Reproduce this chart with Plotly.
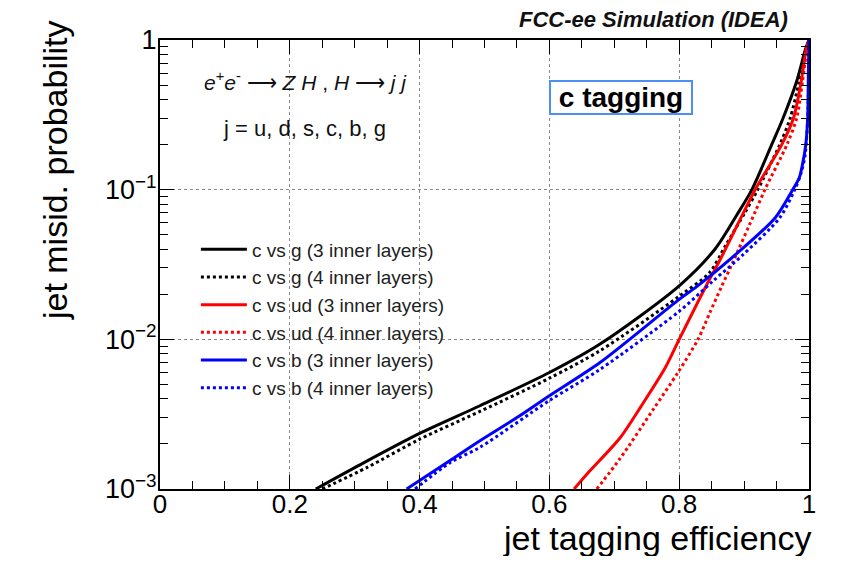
"""c-tagging ROC curves: misid. probability vs tagging efficiency (3 vs 4 inner layers)."""
import plotly.graph_objects as go

# values
CG3_EFF = [0.24, 0.308, 0.40, 0.493, 0.60, 0.678, 0.80, 0.855, 0.889, 0.912, 0.9425, 0.960, 0.981, 0.995, 1.0]
CG3_MIS = [0.001, 0.00145, 0.00235, 0.0036, 0.0060, 0.0093, 0.0228, 0.040, 0.068, 0.10, 0.20, 0.30, 0.53, 0.88, 1.0]

CG4_EFF = [0.25, 0.32, 0.40, 0.493, 0.60, 0.678, 0.80, 0.847, 0.871, 0.901, 0.921, 0.955, 0.971, 0.985, 0.996, 1.0]
CG4_MIS = [0.001, 0.0014, 0.00215, 0.0033, 0.0055, 0.0084, 0.0194, 0.028, 0.042, 0.070, 0.10, 0.20, 0.30, 0.53, 0.88, 1.0]

CUD3_EFF = [0.638, 0.658, 0.709, 0.74, 0.778, 0.80, 0.842, 0.863, 0.896, 0.917, 0.958, 0.976, 0.988, 0.996, 1.0]
CUD3_MIS = [0.001, 0.00126, 0.0022, 0.0035, 0.0064, 0.010, 0.023, 0.034, 0.066, 0.10, 0.20, 0.30, 0.53, 0.88, 1.0]

CUD4_EFF = [0.673, 0.709, 0.76, 0.798, 0.829, 0.847, 0.865, 0.883, 0.917, 0.932, 0.966, 0.981, 0.990, 0.997, 1.0]
CUD4_MIS = [0.001, 0.0016, 0.0034, 0.0060, 0.010, 0.015, 0.0224, 0.033, 0.071, 0.10, 0.20, 0.30, 0.53, 0.88, 1.0]

CB3_EFF = [0.38, 0.447, 0.493, 0.55, 0.60, 0.678, 0.80, 0.827, 0.881, 0.948, 0.975, 0.985, 0.990, 0.995, 0.998, 0.999, 1.0]
CB3_MIS = [0.001, 0.00155, 0.0021, 0.0030, 0.0042, 0.0070, 0.0185, 0.0225, 0.035, 0.065, 0.10, 0.12, 0.148, 0.20, 0.30, 0.60, 1.0]

CB4_EFF = [0.393, 0.447, 0.493, 0.60, 0.678, 0.80, 0.852, 0.899, 0.955, 0.978, 0.988, 0.994, 0.998, 0.9995, 1.0]
CB4_MIS = [0.001, 0.0015, 0.0019, 0.0039, 0.0063, 0.0154, 0.0245, 0.037, 0.065, 0.10, 0.13, 0.17, 0.30, 0.60, 1.0]

SERIES = [
    ("c vs g (3 inner layers)", CG3_EFF, CG3_MIS, "black", "solid"),
    ("c vs g (4 inner layers)", CG4_EFF, CG4_MIS, "black", "dot"),
    ("c vs ud (3 inner layers)", CUD3_EFF, CUD3_MIS, "#ff0000", "solid"),
    ("c vs ud (4 inner layers)", CUD4_EFF, CUD4_MIS, "#ff0000", "dot"),
    ("c vs b (3 inner layers)", CB3_EFF, CB3_MIS, "#0000ff", "solid"),
    ("c vs b (4 inner layers)", CB4_EFF, CB4_MIS, "#0000ff", "dot"),
]

Y_TICKS = [0.001, 0.01, 0.1, 1]
Y_TICKTEXT = ["10<sup>\u22123</sup>", "10<sup>\u22122</sup>", "10<sup>\u22121</sup>", "1"]
X_TICKS = [0, 0.2, 0.4, 0.6, 0.8, 1]
X_TICKTEXT = ["0", "0.2", "0.4", "0.6", "0.8", "1"]

FONT = "Liberation Sans, Arial, sans-serif"

fig = go.Figure()
for i, (name, eff, mis, color, dash) in enumerate(SERIES):
    fig.add_trace(go.Scatter(
        x=eff, y=mis, mode="lines", name=name,
        line=dict(color=color, dash=dash, width=3, shape="spline", smoothing=0.8),
        legendgroup=f"g{i}",
    ))

y_minor = [m * 10 ** e for e in (-3, -2, -1) for m in range(2, 10)]

fig.update_xaxes(
    range=[0, 1], tickvals=X_TICKS, ticktext=X_TICKTEXT,
    ticks="inside", ticklen=14, tickwidth=1, tickcolor="black",
    showline=True, linecolor="black", linewidth=2, mirror="allticks",
    showgrid=True, gridcolor="#888", griddash="dot", gridwidth=1,
    minor=dict(dtick=0.05, ticks="inside", ticklen=8, tickcolor="black", showgrid=False),
    tickfont=dict(size=26, color="black", family=FONT),
    ticklabelstandoff=-9,
    zeroline=False,
)
fig.update_yaxes(
    type="log", range=[-3, 0], tickvals=Y_TICKS, ticktext=Y_TICKTEXT,
    ticks="inside", ticklen=14, tickwidth=1, tickcolor="black",
    showline=True, linecolor="black", linewidth=2, mirror="allticks",
    showgrid=True, gridcolor="#888", griddash="dot", gridwidth=1,
    minor=dict(tickvals=y_minor, ticks="inside", ticklen=8, tickcolor="black", showgrid=False),
    tickfont=dict(size=27, color="black", family=FONT),
    ticklabelstandoff=-4,
    zeroline=False,
)

fig.add_annotation(
    text="jet misid. probability", textangle=-90, xref="paper", yref="paper",
    x=-0.162, y=0.71, xanchor="center", yanchor="middle", showarrow=False,
    font=dict(size=34, color="black", family=FONT),
)
fig.add_annotation(
    text="jet tagging efficiency", xref="paper", yref="paper",
    x=1.006, y=-0.109, xanchor="right", yanchor="middle", showarrow=False,
    font=dict(size=34, color="black", family=FONT),
)
fig.add_annotation(
    text="<b><i>FCC-ee Simulation (IDEA)</i></b>", xref="paper", yref="paper",
    x=0.971, y=1.045, xanchor="right", yanchor="middle", showarrow=False,
    font=dict(size=22, color="#111", family=FONT),
)
fig.add_annotation(
    text="<i>e</i><sup>+</sup><i>e</i><sup>-</sup> \u27f6 <i>Z H</i> , <i>H</i> \u27f6 <i>j j</i>",
    xref="paper", yref="paper", x=0.2235, y=0.908, xanchor="center", yanchor="middle",
    showarrow=False, font=dict(size=21, color="#111", family=FONT),
)
fig.add_annotation(
    text="j = u, d, s, c, b, g", xref="paper", yref="paper",
    x=0.223, y=0.804, xanchor="center", yanchor="middle", showarrow=False,
    font=dict(size=22, color="#111", family=FONT),
)
fig.add_annotation(
    text="&nbsp;<b>c tagging</b>&nbsp;", xref="paper", yref="paper",
    x=0.71, y=0.871, xanchor="center", yanchor="middle", showarrow=False,
    font=dict(size=28, color="black", family=FONT),
    bordercolor="#4d8ff5", borderwidth=2, borderpad=0, bgcolor="white",
)

# page body adds an 8px margin, so the figure is 16px smaller than the window
fig.update_layout(
    width=831, height=548,
    margin=dict(l=152, r=30, t=32, b=67),
    paper_bgcolor="white", plot_bgcolor="white",
    showlegend=True,
    legend=dict(
        x=0.0553, y=0.576, xanchor="left", yanchor="top",
        bgcolor="rgba(0,0,0,0)", tracegroupgap=0, itemwidth=46,
        font=dict(size=19, color="#222", family=FONT),
    ),
)

fig.write_html("out.html")
